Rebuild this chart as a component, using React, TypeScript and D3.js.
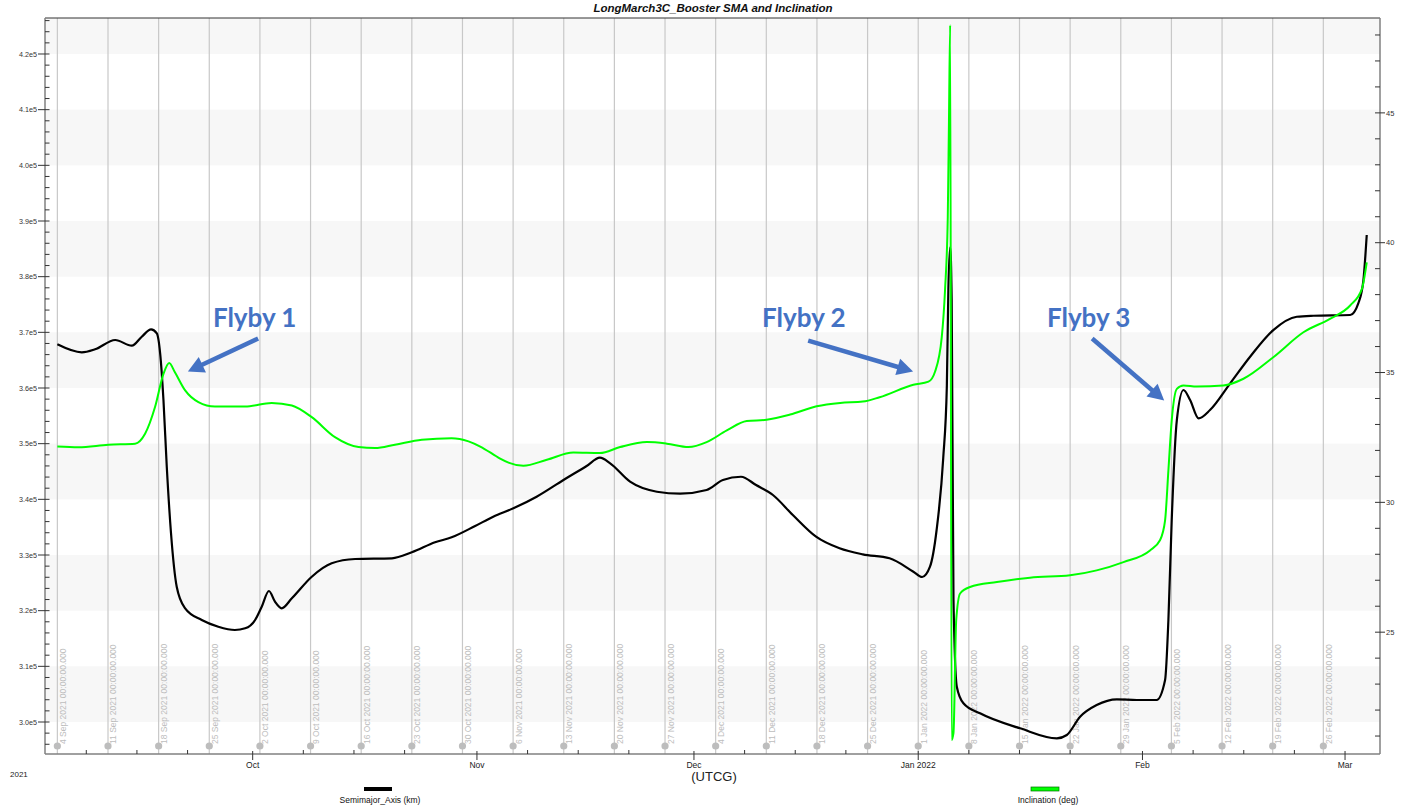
import React from "react";
import * as d3 from "d3";

// ---------------- DATA ----------------
const smaSeries: [string, number][] = [
  ["2021-09-04T00", 367850], ["2021-09-07T09", 366410], ["2021-09-09T05", 366950],
  ["2021-09-12T00", 368620], ["2021-09-14T07", 367600], ["2021-09-15T16", 369210],
  ["2021-09-16T23", 370540], ["2021-09-17T18", 369820], ["2021-09-18T05", 366230],
  ["2021-09-18T16", 357840], ["2021-09-19T03", 345860], ["2021-09-19T17", 333950],
  ["2021-09-20T12", 324300], ["2021-09-21T16", 320420], ["2021-09-23T23", 318320],
  ["2021-09-26T06", 317120], ["2021-09-28T13", 316530], ["2021-09-29T23", 316830],
  ["2021-10-01T08", 318320], ["2021-10-02T06", 320710], ["2021-10-03T06", 323530],
  ["2021-10-04T02", 321610], ["2021-10-05T00", 320420], ["2021-10-06T10", 322220],
  ["2021-10-09T04", 326100], ["2021-10-11T22", 328510], ["2021-10-15T04", 329280],
  ["2021-10-20T06", 329410], ["2021-10-23T00", 330480], ["2021-10-26T05", 332280],
  ["2021-10-28T12", 333180], ["2021-10-31T18", 335210], ["2021-11-03T06", 336880],
  ["2021-11-06T01", 338390], ["2021-11-09T06", 340470], ["2021-11-12T23", 343470],
  ["2021-11-16T04", 345990], ["2021-11-18T00", 347480], ["2021-11-19T10", 346470],
  ["2021-11-22T04", 343170], ["2021-11-25T21", 341370], ["2021-11-29T02", 341010],
  ["2021-12-02T18", 341670], ["2021-12-05T00", 343470], ["2021-12-07T12", 344060],
  ["2021-12-09T14", 342570], ["2021-12-11T22", 340780], ["2021-12-14T16", 337180],
  ["2021-12-17T21", 333290], ["2021-12-21T03", 331200], ["2021-12-24T08", 330120],
  ["2021-12-28T01", 329410], ["2021-12-31T08", 327000], ["2022-01-01T13", 326050],
  ["2022-01-02T15", 327900], ["2022-01-03T13", 334490], ["2022-01-04T11", 347420],
  ["2022-01-04T23", 360430], ["2022-01-05T04", 377780], ["2022-01-05T10", 385320],
  ["2022-01-05T15", 375800], ["2022-01-05T21", 321910], ["2022-01-06T08", 306340],
  ["2022-01-07T06", 303360], ["2022-01-09T13", 301560], ["2022-01-15T02", 298870],
  ["2022-01-20T04", 297070], ["2022-01-21T13", 297670], ["2022-01-23T09", 300950],
  ["2022-01-25T16", 303050], ["2022-01-28T11", 304080], ["2022-01-31T05", 303950],
  ["2022-02-02T23", 303950], ["2022-02-04T03", 307540], ["2022-02-04T14", 318320],
  ["2022-02-05T01", 336280], ["2022-02-05T18", 354250], ["2022-02-06T16", 359640],
  ["2022-02-07T14", 357840], ["2022-02-08T18", 354550], ["2022-02-10T08", 356040],
  ["2022-02-13T03", 360840], ["2022-02-15T21", 365620], ["2022-02-19T02", 370410],
  ["2022-02-22T08", 372800], ["2022-02-24T15", 372980], ["2022-03-01T17", 373110],
  ["2022-03-02T20", 375210], ["2022-03-03T13", 379400], ["2022-03-04T00", 387480],
];

const incSeries: [string, number][] = [
  ["2021-09-04T00", 32.15], ["2021-09-06T22", 32.12], ["2021-09-11T01", 32.22],
  ["2021-09-14T18", 32.26], ["2021-09-16T03", 32.64], ["2021-09-17T12", 33.67],
  ["2021-09-18T16", 34.95], ["2021-09-19T11", 35.37], ["2021-09-20T06", 35.01],
  ["2021-09-21T16", 34.31], ["2021-09-23T12", 33.86], ["2021-09-25T19", 33.69],
  ["2021-09-29T23", 33.69], ["2021-10-03T15", 33.83], ["2021-10-06T10", 33.73],
  ["2021-10-09T04", 33.28], ["2021-10-12T09", 32.51], ["2021-10-15T15", 32.13],
  ["2021-10-17T22", 32.09], ["2021-10-20T16", 32.22], ["2021-10-24T09", 32.41],
  ["2021-10-28T12", 32.47], ["2021-10-30T20", 32.35], ["2021-11-01T11", 32.15],
  ["2021-11-03T06", 31.85], ["2021-11-04T05", 31.68], ["2021-11-07T10", 31.41],
  ["2021-11-10T16", 31.64], ["2021-11-14T08", 31.92], ["2021-11-18T00", 31.9],
  ["2021-11-20T19", 32.13], ["2021-11-24T12", 32.32], ["2021-11-27T06", 32.26],
  ["2021-11-30T06", 32.13], ["2021-12-02T18", 32.32], ["2021-12-05T13", 32.77],
  ["2021-12-08T07", 33.13], ["2021-12-11T01", 33.18], ["2021-12-14T07", 33.38],
  ["2021-12-17T23", 33.7], ["2021-12-21T05", 33.83], ["2021-12-24T08", 33.88],
  ["2021-12-26T16", 34.05], ["2021-12-31T08", 34.53], ["2022-01-02T10", 34.65],
  ["2022-01-03T08", 35.04], ["2022-01-04T06", 36.35], ["2022-01-04T17", 38.19],
  ["2022-01-05T02", 40.96], ["2022-01-05T06", 44.69], ["2022-01-05T10", 48.38],
  ["2022-01-05T15", 20.85], ["2022-01-05T21", 21.12], ["2022-01-06T06", 25.46],
  ["2022-01-06T19", 26.49], ["2022-01-08T04", 26.74], ["2022-01-11T21", 26.93],
  ["2022-01-16T11", 27.1], ["2022-01-22T00", 27.19], ["2022-01-25T16", 27.38],
  ["2022-01-29T09", 27.7], ["2022-02-02T01", 28.15], ["2022-02-03T10", 28.54],
  ["2022-02-04T03", 29.31], ["2022-02-04T14", 31.23], ["2022-02-05T01", 33.15],
  ["2022-02-05T18", 34.37], ["2022-02-06T16", 34.5], ["2022-02-08T12", 34.46],
  ["2022-02-12T04", 34.5], ["2022-02-14T23", 34.76], ["2022-02-19T02", 35.59],
  ["2022-02-23T06", 36.55], ["2022-02-26T22", 37.07], ["2022-03-01T17", 37.58],
  ["2022-03-03T08", 38.22], ["2022-03-04T00", 39.24],
];

const xDomainStr = ["2021-09-02T07", "2022-03-05T20"];
const smaDomain = [294252, 426467];
const incDomain = [20.308, 48.654];

const smaTicks = [300000, 310000, 320000, 330000, 340000, 350000, 360000, 370000, 380000, 390000, 400000, 410000, 420000];
const smaTickLabels = ["3.0e5", "3.1e5", "3.2e5", "3.3e5", "3.4e5", "3.5e5", "3.6e5", "3.7e5", "3.8e5", "3.9e5", "4.0e5", "4.1e5", "4.2e5"];
const incTicks = [25, 30, 35, 40, 45];
const incTickLabels = ["25", "30", "35", "40", "45"];
const monthTicks = ["2021-10-01T00", "2021-11-01T00", "2021-12-01T00", "2022-01-01T00", "2022-02-01T00", "2022-03-01T00"];
const monthLabels = ["Oct", "Nov", "Dec", "Jan 2022", "Feb", "Mar"];
const gridStart = "2021-09-04T00";
const gridEnd = "2022-02-27T00";

const flybyLabels = ["Flyby 1", "Flyby 2", "Flyby 3"];
// [text anchor time, tail time, tail inc, tip time, tip inc]
const flybyText: [string, number][] = [["2021-09-25T12", 36.77], ["2021-12-10T10", 36.77], ["2022-01-18T19", 36.77]];
const flybyTail: [string, number][] = [["2021-10-01T18", 36.31], ["2021-12-16T19", 36.23], ["2022-01-25T01", 36.31]];
const flybyTip: [string, number][] = [["2021-09-22T01", 35.04], ["2021-12-31T07", 35.04], ["2022-02-04T00", 33.92]];

// ---------------- LAYOUT ----------------
const W = 1428, H = 806;
const L = 45, R = 1380, T = 18, B = 754;
const FONT = "'Liberation Sans', Arial, sans-serif";

const parseT = d3.utcParse("%Y-%m-%dT%H");
const x = d3.scaleUtc().domain(xDomainStr.map((s) => parseT(s)!)).range([L, R]);
const ySma = d3.scaleLinear().domain(smaDomain).range([B, T]);
const yInc = d3.scaleLinear().domain(incDomain).range([B, T]);

const smaData = smaSeries.map(([t, v]) => ({ t: parseT(t)!, v }));
const incData = incSeries.map(([t, v]) => ({ t: parseT(t)!, v }));

const smaLine = d3.line<{ t: Date; v: number }>().x((d) => x(d.t)).y((d) => ySma(d.v)).curve(d3.curveMonotoneX);
const incLine = d3.line<{ t: Date; v: number }>().x((d) => x(d.t)).y((d) => yInc(d.v)).curve(d3.curveMonotoneX);

const gridDates = d3.utcDay.every(7)!.range(parseT(gridStart)!, parseT(gridEnd)!);
const gridDatesWeekly = d3.utcSaturday.range(parseT(gridStart)!, parseT(gridEnd)!);
const fmtGrid = d3.utcFormat("%-d %b %Y %H:%M:%S.000");

const smaMinor = d3.range(296000, 426001, 2000).filter((v) => v % 10000 !== 0);
const incMinor = d3.range(21, 49, 1).filter((v) => v % 5 !== 0);
const bands = d3.range(300000, 430000, 20000).map((lo) => [lo, Math.min(lo + 10000, smaDomain[1])]);

const minorX = d3.utcDay
  .range(x.domain()[0], x.domain()[1])
  .filter((d) => [8, 15, 22].includes(d.getUTCDate()));

function Arrow({ tail, tip }: { tail: [number, number]; tip: [number, number] }) {
  const dx = tip[0] - tail[0], dy = tip[1] - tail[1];
  const len = Math.hypot(dx, dy);
  const ux = dx / len, uy = dy / len;
  const hl = 16, hw = 8.5;
  const bx = tip[0] - ux * hl, by = tip[1] - uy * hl;
  const px = -uy, py = ux;
  return (
    <g>
      <line x1={tail[0]} y1={tail[1]} x2={bx + ux * 2} y2={by + uy * 2} stroke="#4472C4" strokeWidth={4.5} />
      <polygon
        points={`${tip[0]},${tip[1]} ${bx + px * hw},${by + py * hw} ${bx - px * hw},${by - py * hw}`}
        fill="#4472C4"
      />
    </g>
  );
}

export default function App() {
  const gd = gridDatesWeekly.length ? gridDatesWeekly : gridDates;
  return (
    <svg width={W} height={H} style={{ position: "fixed", left: 0, top: 0, background: "#fff" }} fontFamily={FONT}>
      <defs>
        <clipPath id="plot">
          <rect x={L} y={T} width={R - L} height={B - T} />
        </clipPath>
      </defs>
      <rect x={0} y={0} width={W} height={H} fill="#fff" />
      {/* bands */}
      {bands.map(([lo, hi], i) => (
        <rect key={i} x={L} width={R - L} y={ySma(hi)} height={ySma(lo) - ySma(hi)} fill="#f7f7f7" />
      ))}
      {/* title */}
      <text x={713} y={12} textAnchor="middle" fontSize={11.5} fontWeight="bold" fontStyle="italic" fill="#111">
        LongMarch3C_Booster SMA and Inclination
      </text>
      {/* vertical grid lines with labels */}
      {gd.map((d, i) => (
        <g key={i}>
          <line x1={x(d)} x2={x(d)} y1={T} y2={B} stroke="#c8c8c8" strokeWidth={1.2} />
          <circle cx={x(d)} cy={746} r={3.6} fill="#bdbdbd" />
          <text
            transform={`translate(${x(d) + 8.5},744) rotate(-90)`}
            fontSize={8.5}
            fill="#bdbdbd"
          >
            {fmtGrid(d)}
          </text>
        </g>
      ))}
      {/* series */}
      <g clipPath="url(#plot)">
        <path d={smaLine(smaData)!} fill="none" stroke="#000" strokeWidth={2.2} />
        <path d={incLine(incData)!} fill="none" stroke="#00ff00" strokeWidth={2} />
      </g>
      {/* frame */}
      <line x1={L} x2={R} y1={T} y2={T} stroke="#333" strokeWidth={1} />
      <line x1={L} x2={L} y1={T} y2={B} stroke="#808080" strokeWidth={1.5} />
      <line x1={R} x2={R} y1={T} y2={B} stroke="#808080" strokeWidth={1.5} />
      <line x1={L} x2={R} y1={B} y2={B} stroke="#808080" strokeWidth={1.5} />
      {/* left axis */}
      {smaMinor.map((v) => (
        <line key={v} x1={L} x2={L + 4.5} y1={ySma(v)} y2={ySma(v)} stroke="#333" strokeWidth={1} />
      ))}
      {smaTicks.map((v, i) => (
        <g key={v}>
          <line x1={L - 7} x2={L + 4.5} y1={ySma(v)} y2={ySma(v)} stroke="#333" strokeWidth={1} />
          <text x={37} y={ySma(v)} dy="0.35em" textAnchor="end" fontSize={7.2} fill="#333">
            {smaTickLabels[i]}
          </text>
        </g>
      ))}
      {/* right axis */}
      {incMinor.map((v) => (
        <line key={v} x1={R - 5} x2={R} y1={yInc(v)} y2={yInc(v)} stroke="#333" strokeWidth={1} />
      ))}
      {incTicks.map((v, i) => (
        <g key={v}>
          <line x1={R - 5} x2={R + 5} y1={yInc(v)} y2={yInc(v)} stroke="#333" strokeWidth={1} />
          <text x={R + 6} y={yInc(v)} dy="0.35em" fontSize={7.5} fill="#333">
            {incTickLabels[i]}
          </text>
        </g>
      ))}
      {/* bottom axis */}
      {minorX.map((d, i) => (
        <line key={i} x1={x(d)} x2={x(d)} y1={B - 4} y2={B} stroke="#333" strokeWidth={1} />
      ))}
      {monthTicks.map((s, i) => {
        const xx = x(parseT(s)!);
        return (
          <g key={s}>
            <line x1={xx} x2={xx} y1={B - 3} y2={B + 6} stroke="#333" strokeWidth={1} />
            <text x={xx} y={768} textAnchor="middle" fontSize={8.5} fill="#222">
              {monthLabels[i]}
            </text>
          </g>
        );
      })}
      <text x={10} y={777} fontSize={8} fill="#222">2021</text>
      <text x={714} y={781} textAnchor="middle" fontSize={13} fill="#222">(UTCG)</text>
      {/* legend */}
      <rect x={364} y={787} width={28} height={4} fill="#000" />
      <text x={380} y={803} textAnchor="middle" fontSize={8.5} fill="#111">Semimajor_Axis (km)</text>
      <rect x={1031} y={787} width={28} height={4} fill="#00ff00" stroke="#007000" strokeWidth={0.7} />
      <text x={1048} y={803} textAnchor="middle" fontSize={8.5} fill="#111">Inclination (deg)</text>
      {/* annotations */}
      {flybyLabels.map((lab, i) => (
        <g key={lab}>
          <text
            x={x(parseT(flybyText[i][0])!)}
            y={yInc(flybyText[i][1])}
            fontFamily="Lato, 'Open Sans', sans-serif"
            fontWeight="bold"
            fontSize={26}
            fill="#4472C4"
          >
            {lab}
          </text>
          <Arrow
            tail={[x(parseT(flybyTail[i][0])!), yInc(flybyTail[i][1])]}
            tip={[x(parseT(flybyTip[i][0])!), yInc(flybyTip[i][1])]}
          />
        </g>
      ))}
    </svg>
  );
}
